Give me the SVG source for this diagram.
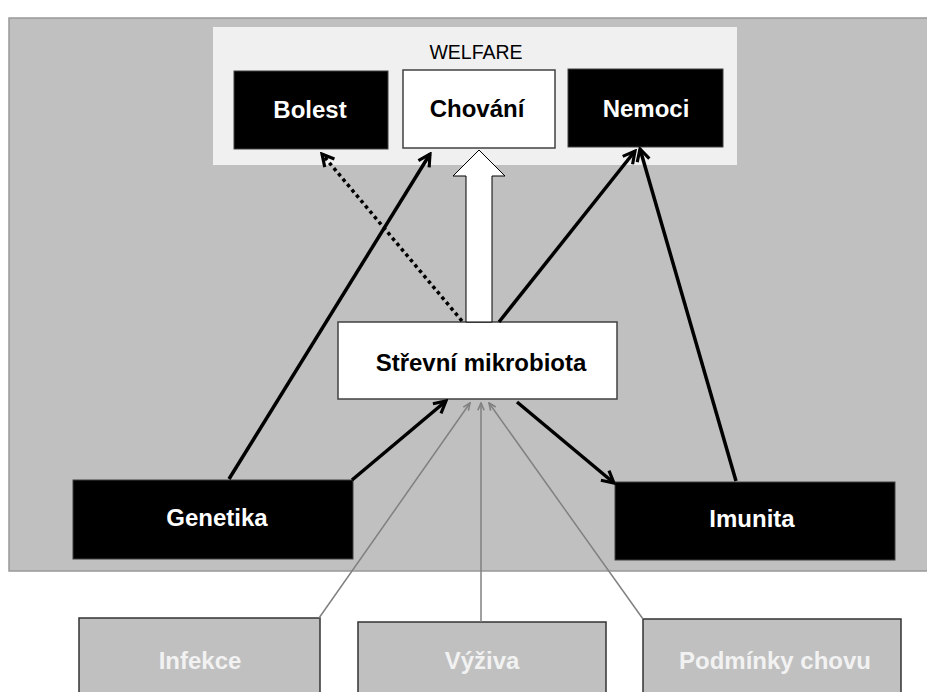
<svg xmlns="http://www.w3.org/2000/svg" width="927" height="692" viewBox="0 0 927 692">
<defs>
<style>
.lbl{font-family:"Liberation Sans",Arial,sans-serif;font-weight:bold;font-size:24px;text-anchor:middle}
.w{fill:#ffffff}
.k{fill:#000000}
.lt{fill:#f2f2f2}
.blk{fill:#000000;stroke:#404040;stroke-width:1}
.wht{fill:#ffffff;stroke:#404040;stroke-width:1.5}
.ext{fill:#c0c0c0;stroke:#333333;stroke-width:1.5}
.arr{fill:none;stroke:#000000;stroke-width:3.5;marker-end:url(#ah)}
.dot{fill:none;stroke:#000000;stroke-width:3.5;stroke-dasharray:3.5 3.5;marker-end:url(#ah)}
.garr{fill:none;stroke:#808080;stroke-width:1.5;marker-end:url(#gah)}
</style>
<marker id="ah" viewBox="0 0 10 10" refX="8.5" refY="5" markerWidth="4.5" markerHeight="4.5" orient="auto" markerUnits="strokeWidth">
<path d="M1,1 L8.5,5 L1,9" fill="none" stroke="#000000" stroke-width="2"/>
</marker>
<marker id="gah" viewBox="0 0 10 10" refX="9" refY="5" markerWidth="6" markerHeight="6" orient="auto" markerUnits="strokeWidth">
<path d="M1,1.5 L9,5 L1,8.5" fill="none" stroke="#808080" stroke-width="1.8"/>
</marker>
</defs>
<rect x="0" y="0" width="927" height="692" fill="#ffffff"/>
<rect id="background" x="9" y="18" width="925" height="553" fill="#c0c0c0" stroke="#999999" stroke-width="1.5"/>
<g id="welfare">
<rect x="213" y="27" width="524" height="138" fill="#f0f0f0"/>
<text x="476" y="59" style="font-family:'Liberation Sans',Arial,sans-serif;font-size:19.5px;text-anchor:middle" fill="#000000">WELFARE</text>
</g>
<g id="bolest">
<rect class="blk" x="234" y="71" width="154" height="78"/>
<text class="lbl w" x="310" y="118">Bolest</text>
</g>
<g id="chovani">
<rect class="wht" x="403" y="70" width="152" height="78"/>
<text class="lbl k" x="477" y="117">Chování</text>
</g>
<g id="nemoci">
<rect class="blk" x="568" y="69" width="155" height="78"/>
<text class="lbl w" x="646" y="117">Nemoci</text>
</g>
<g id="mikrobiota">
<rect class="wht" x="338" y="322" width="279" height="77"/>
<text class="lbl k" x="481" y="371">Střevní mikrobiota</text>
</g>
<g id="genetika">
<rect class="blk" x="73" y="480" width="280" height="79"/>
<text class="lbl w" x="217" y="526">Genetika</text>
</g>
<g id="imunita">
<rect class="blk" x="615" y="482" width="280" height="78"/>
<text class="lbl w" x="752" y="527">Imunita</text>
</g>
<g id="infekce">
<rect class="ext" x="79" y="618" width="241" height="80"/>
<text class="lbl lt" x="200" y="669">Infekce</text>
</g>
<g id="vyziva">
<rect class="ext" x="358" y="622" width="248" height="80"/>
<text class="lbl lt" x="482" y="669">Výživa</text>
</g>
<g id="podminky">
<rect class="ext" x="643" y="619" width="258" height="80"/>
<text class="lbl lt" x="775" y="669">Podmínky chovu</text>
</g>
<g id="connectors">
<polygon points="466,322 466,176 453,176 479,150 505,176 492,176 492,322" fill="#ffffff" stroke="#000000" stroke-width="1"/>
<line class="arr" x1="229" y1="479" x2="430" y2="154"/>
<line class="arr" x1="352" y1="480" x2="446" y2="401"/>
<line class="dot" x1="462" y1="321" x2="322" y2="154"/>
<line class="arr" x1="499" y1="322" x2="635" y2="151"/>
<line class="arr" x1="517" y1="402" x2="614" y2="483"/>
<line class="arr" x1="736" y1="481" x2="640" y2="149"/>
<line class="garr" x1="319" y1="618" x2="470" y2="403"/>
<line class="garr" x1="481" y1="622" x2="481" y2="403"/>
<line class="garr" x1="643" y1="619" x2="489" y2="403"/>
</g>
</svg>
